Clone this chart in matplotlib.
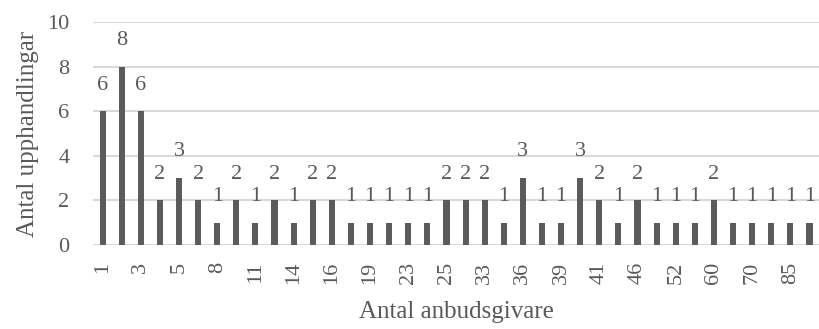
import numpy as np
import matplotlib
matplotlib.use("Agg")
import matplotlib.pyplot as plt

# categories (number of bidders); only every other one is labelled in the chart
bidders = ["1", "2", "3", "4", "5", "6", "8", "10", "11", "12", "14", "15", "16",
           "18", "19", "20", "23", "24", "25", "30", "33", "35", "36", "38", "39",
           "40", "41", "45", "46", "50", "52", "55", "60", "65", "70", "80", "85", "90"]
procurements = [6, 8, 6, 2, 3, 2, 1, 2, 1, 2, 1, 2, 2, 1, 1, 1, 1, 1, 2, 2, 2, 1,
                3, 1, 1, 3, 2, 1, 2, 1, 1, 1, 2, 1, 1, 1, 1, 1]

plt.rcParams['font.family'] = ['Liberation Serif', 'DejaVu Serif']
txt = "#595959"

fig = plt.figure(figsize=(8.19, 3.29), dpi=100)
ax = fig.add_axes([0.1136, 0.255, 0.8864, 0.678])

x = np.arange(len(bidders))
ax.bar(x, procurements, width=0.32, color="#5b5b5b", zorder=3)
for xi, v in zip(x, procurements):
    ax.text(xi, v + 0.75, str(v), ha="center", va="bottom", fontsize=16, color=txt)

ax.set_xlim(-0.5, len(bidders) - 0.5)
ax.set_ylim(0, 10)
ax.set_yticks(range(0, 11, 2))
ax.set_xticks(x[::2])
ax.set_xticklabels(bidders[::2], rotation=90)
ax.grid(axis="y", color="#d9d9d9", linewidth=1.5, zorder=0)
for s in ax.spines.values():
    s.set_visible(False)
ax.tick_params(length=0, labelsize=16, colors=txt)
ax.tick_params(axis="y", pad=17)
ax.tick_params(axis="x", pad=12)
ax.set_xlabel("Antal anbudsgivare", fontsize=18, color=txt, labelpad=12)
ax.set_ylabel("Antal upphandlingar", fontsize=18, color=txt, labelpad=6)

fig.savefig("out.png", dpi=100)
